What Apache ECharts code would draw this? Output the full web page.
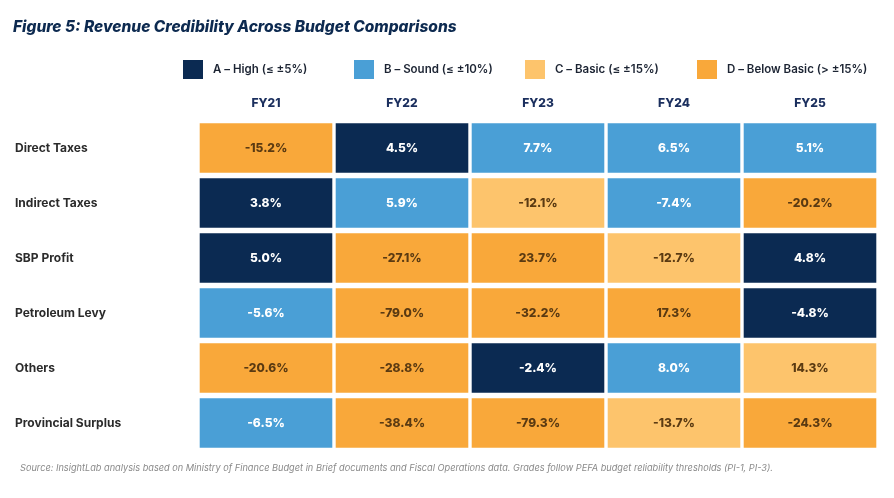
<!DOCTYPE html>
<html>
<head>
<meta charset="utf-8">
<script src="https://cdn.jsdelivr.net/npm/echarts@6/dist/echarts.min.js"></script>
<style>
  html, body { margin: 0; padding: 0; background: #fff; }
  #main { width: 894px; height: 498px; }
</style>
</head>
<body>
<div id="main"></div>
<script>
// data
var years = ['FY21', 'FY22', 'FY23', 'FY24', 'FY25'];
var items = ['Direct Taxes', 'Indirect Taxes', 'SBP Profit', 'Petroleum Levy', 'Others', 'Provincial Surplus'];
var directTaxes = [-15.2, 4.5, 7.7, 6.5, 5.1];
var indirectTaxes = [3.8, 5.9, -12.1, -7.4, -20.2];
var sbpProfit = [5.0, -27.1, 23.7, -12.7, 4.8];
var petroleumLevy = [-5.6, -79.0, -32.2, 17.3, -4.8];
var others = [-20.6, -28.8, -2.4, 8.0, 14.3];
var provincialSurplus = [-6.5, -38.4, -79.3, -13.7, -24.3];
var rows = [directTaxes, indirectTaxes, sbpProfit, petroleumLevy, others, provincialSurplus];

var grades = ['A – High (≤ ±5%)', 'B – Sound (≤ ±10%)', 'C – Basic (≤ ±15%)', 'D – Below Basic (> ±15%)'];
var limits = [5, 10, 15, Infinity];
var colors = ['#0b2a52', '#4a9fd6', '#fdc46c', '#f9a83a'];
var textColors = ['#ffffff', '#ffffff', '#5a3a12', '#5a3a12'];

function gradeOf(v) {
    var a = Math.abs(v);
    for (var i = 0; i < limits.length; i++) {
        if (a <= limits[i]) return i;
    }
    return 3;
}

// one custom series per grade
var seriesData = [[], [], [], []];
rows.forEach(function (row, r) {
    row.forEach(function (v, c) {
        seriesData[gradeOf(v)].push([c, r, v]);
    });
});

var myChart = echarts.init(document.getElementById('main'));

function makeRender(g) {
    return function (params, api) {
        var p = api.coord([api.value(0), api.value(1)]);
        var s = api.size([1, 1]);
        var gx = 3.4, gy = 5.5;
        var v = api.value(2);
        return {
            type: 'rect',
            shape: {
                x: p[0] - s[0] / 2 + gx / 2,
                y: p[1] - s[1] / 2 + gy / 2,
                width: s[0] - gx,
                height: s[1] - gy
            },
            style: { fill: colors[g] },
            textContent: {
                style: {
                    text: v.toFixed(1) + '%',
                    fill: textColors[g],
                    font: '800 12px Inter, sans-serif'
                }
            },
            textConfig: { position: 'inside' }
        };
    };
}

var legendLeft = [183, 354, 525, 697];

var option = {
    backgroundColor: '#ffffff',
    animation: false,
    title: [
        {
            text: 'Figure 5: Revenue Credibility Across Budget Comparisons',
            left: 8, top: 14,
            textStyle: { fontFamily: 'Inter', fontSize: 15.5, fontWeight: 800, fontStyle: 'italic', color: '#0d2a50' }
        },
        {
            text: 'Source: InsightLab analysis based on Ministry of Finance Budget in Brief documents and Fiscal Operations data. Grades follow PEFA budget reliability thresholds (PI-1, PI-3).',
            left: 15, top: 459,
            textStyle: { fontFamily: 'Inter', fontSize: 9.2, fontWeight: 'normal', fontStyle: 'italic', color: '#8a8a8a' }
        }
    ],
    legend: grades.map(function (g, i) {
        return {
            data: [g],
            left: legendLeft[i], top: 60,
            padding: 0,
            icon: 'rect', itemWidth: 20, itemHeight: 19,
            selectedMode: false,
            textStyle: { fontFamily: 'Inter', fontSize: 11.5, fontWeight: 600, color: '#1c2433', padding: [0, 0, 0, 5] }
        };
    }),
    grid: { left: 198, top: 120.5, width: 680, height: 330 },
    xAxis: {
        type: 'category',
        position: 'top',
        data: years,
        axisLine: { show: false },
        axisTick: { show: false },
        splitLine: { show: false },
        axisLabel: { margin: 11, fontFamily: 'Inter', fontSize: 12, fontWeight: 800, color: '#1b2f5e' }
    },
    yAxis: {
        type: 'category',
        inverse: true,
        data: items,
        axisLine: { show: false },
        axisTick: { show: false },
        splitLine: { show: false },
        axisLabel: { align: 'left', margin: 183, fontFamily: 'Inter', fontSize: 12, fontWeight: 700, color: '#2b2b2b' }
    },
    series: grades.map(function (g, i) {
        return {
            name: g,
            type: 'custom',
            itemStyle: { color: colors[i] },
            renderItem: makeRender(i),
            data: seriesData[i]
        };
    })
};

myChart.setOption(option);
</script>
</body>
</html>
